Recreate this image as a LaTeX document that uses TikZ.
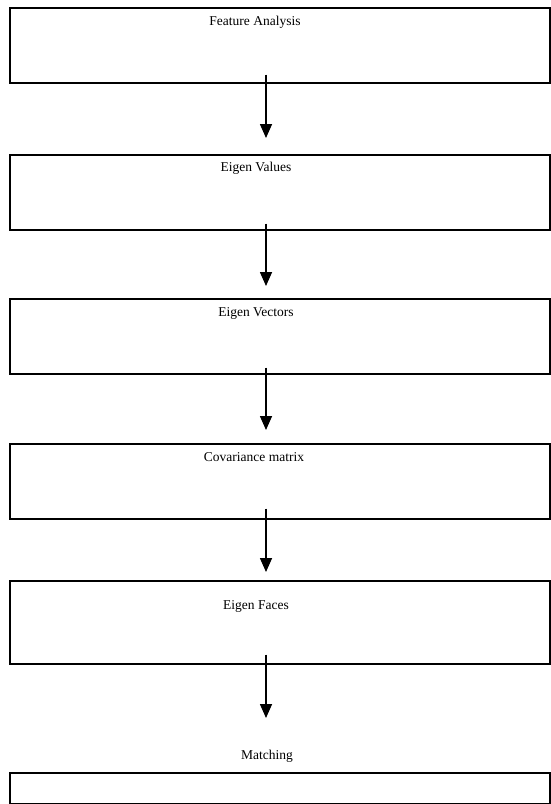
\documentclass[tikz,border=0pt]{standalone}
\usepackage{fontspec}
\setmainfont{Liberation Serif}
\usetikzlibrary{arrows.meta}
\tikzset{
		etape/.style={draw, line width=1.7pt, minimum width=540pt, minimum height=75pt, inner sep=0pt, anchor=north west},
		texte/.style={inner sep=0pt, anchor=center},
		fleche/.style={line width=1.6pt, -{Triangle[width=12pt,length=14pt]}}
	}
\begin{document}
\begin{tikzpicture}[x=1pt, y=-1pt]
		\fontsize{13.5}{15} \selectfont
		\useasboundingbox (0,0) rectangle (551,804);
		\coordinate (axe) at (266,0);
		% etapes
		\node[etape](featanal) at (9,7) {};
		\node[texte](txtfeat) at (255,22) {Feature Analysis};
		\node[etape](eigevalu) at (9,154) {};
		\node[texte](txtvalu) at (256,168) {Eigen Values};
		\node[etape](eigevect) at (9,298) {};
		\node[texte](txtvect) at (256,313) {Eigen Vectors};
		\node[etape](covamatr) at (9,443) {};
		\node[texte](txtcova) at (254,457) {Covariance matrix};
		\node[etape, minimum height=83pt](eigeface) at (9,580) {};
		\node[texte](txtface) at (256,606) {Eigen Faces};
		\node[texte](txtmatc) at (267,756) {Matching};
		\node[etape, minimum height=31pt](matching) at (9,772) {};
		% fleches
		\draw[fleche] ([yshift=9pt]featanal.south -| axe) -- ([yshift=16pt]eigevalu.north -| axe);
		\draw[fleche] ([yshift=7pt]eigevalu.south -| axe) -- ([yshift=12pt]eigevect.north -| axe);
		\draw[fleche] ([yshift=7pt]eigevect.south -| axe) -- ([yshift=13pt]covamatr.north -| axe);
		\draw[fleche] ([yshift=11pt]covamatr.south -| axe) -- ([yshift=8pt]eigeface.north -| axe);
		\draw[fleche] ([yshift=10pt]eigeface.south -| axe) -- ([yshift=54pt]matching.north -| axe);
	\end{tikzpicture}
\end{document}
